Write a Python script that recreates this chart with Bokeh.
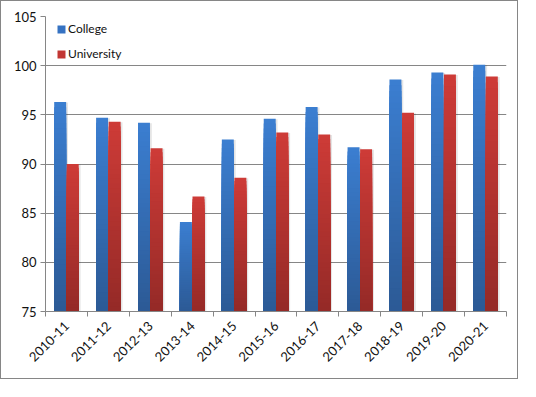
import numpy as np
from math import pi
from bokeh.plotting import figure
from bokeh.models import Range1d, FixedTicker, Legend, LegendItem
from bokeh.embed import file_html
from bokeh.resources import INLINE

# ---- data ----
categories = ["2010-11", "2011-12", "2012-13", "2013-14", "2014-15", "2015-16",
              "2016-17", "2017-18", "2018-19", "2019-20", "2020-21"]
college = [96.3, 94.7, 94.2, 84.1, 92.5, 94.6, 95.8, 91.7, 98.6, 99.3, 100.1]
university = [90.0, 94.3, 91.6, 86.7, 88.6, 93.2, 93.0, 91.5, 95.2, 99.1, 98.9]
series_names = ["College", "University"]
y_ticks = [75, 80, 85, 90, 95, 100, 105]

BASE = 75
W = 0.285
OFF = 0.15
FONT = "Lato"
GRAY = "#868686"

p = figure(width=518, height=379, x_range=Range1d(0, len(categories)),
           y_range=Range1d(y_ticks[0], y_ticks[-1]),
           output_backend="svg", toolbar_location=None,
           min_border_left=44, min_border_right=13, min_border_top=15, min_border_bottom=69)
p.styles = {"border": "1px solid #868686"}
p.outline_line_color = None
p.background_fill_color = "white"
p.border_fill_color = "white"

centers = np.arange(len(categories)) + 0.5


def mix(c1, c2, t):
    a = [int(c1[i:i + 2], 16) for i in (1, 3, 5)]
    b = [int(c2[i:i + 2], 16) for i in (1, 3, 5)]
    return "#%02x%02x%02x" % tuple(int(round(a[j] + (b[j] - a[j]) * t)) for j in range(3))


def grad_bars(xs, vals, top_col, bot_col, N=40):
    vals = np.asarray(vals, dtype=float)
    # soft shadow
    p.vbar(x=xs + 0.045, top=vals - 0.05, bottom=BASE, width=W,
           fill_color="black", fill_alpha=0.10, line_color=None)
    xs_all, tops, cols = [], [], []
    for k in range(N - 1, -1, -1):
        frac = (k + 1) / N
        c = mix(bot_col, top_col, k / (N - 1))
        for x, v in zip(xs, vals):
            xs_all.append(x)
            tops.append(BASE + (v - BASE) * frac)
            cols.append(c)
    p.vbar(x=xs_all, top=tops, bottom=BASE, width=W, fill_color=cols, line_color=None)


grad_bars(centers - OFF, college, "#3b7ed0", "#2c5a96")
grad_bars(centers + OFF, university, "#cd3b37", "#952a27")

# legend (off-screen proxy renderers)
r1 = p.vbar(x=[-10], top=[0], bottom=[-1], width=0.1, fill_color="#3572c2", line_color=None)
r2 = p.vbar(x=[-10], top=[0], bottom=[-1], width=0.1, fill_color="#c23633", line_color=None)
legend = Legend(items=[LegendItem(label=series_names[0], renderers=[r1]),
                       LegendItem(label=series_names[1], renderers=[r2])],
                location=(11, 250), orientation="vertical",
                glyph_width=10, glyph_height=10, label_height=14, label_standoff=2,
                spacing=10, padding=0, margin=0,
                border_line_color=None, background_fill_alpha=0,
                label_text_font=FONT, label_text_font_size="12px",
                label_text_color="#111111")
p.add_layout(legend)

# axes
p.xgrid.grid_line_color = None
p.ygrid.grid_line_color = GRAY
p.ygrid.grid_line_width = 1
p.yaxis.ticker = FixedTicker(ticks=y_ticks)
p.ygrid.ticker = FixedTicker(ticks=y_ticks)
p.yaxis.axis_line_color = GRAY
p.yaxis.major_tick_line_color = GRAY
p.yaxis.major_tick_out = 5
p.yaxis.major_tick_in = 0
p.yaxis.minor_tick_line_color = None
p.yaxis.major_label_text_font = FONT
p.yaxis.major_label_text_font_size = "13px"
p.yaxis.major_label_text_color = "#111111"
p.yaxis.major_label_standoff = 4

p.xaxis.ticker = FixedTicker(ticks=list(centers),
                             minor_ticks=list(range(len(categories) + 1)))
p.xaxis.major_label_overrides = {float(c): lab for c, lab in zip(centers, categories)}
p.xaxis.major_label_orientation = pi / 4
p.xaxis.axis_line_color = GRAY
p.xaxis.major_tick_line_color = None
p.xaxis.minor_tick_line_color = GRAY
p.xaxis.minor_tick_out = 5
p.xaxis.minor_tick_in = 0
p.xaxis.major_label_text_font = FONT
p.xaxis.major_label_text_font_size = "13px"
p.xaxis.major_label_text_color = "#111111"
p.xaxis.major_label_standoff = 6

open("out.html", "w").write(file_html(p, INLINE))
